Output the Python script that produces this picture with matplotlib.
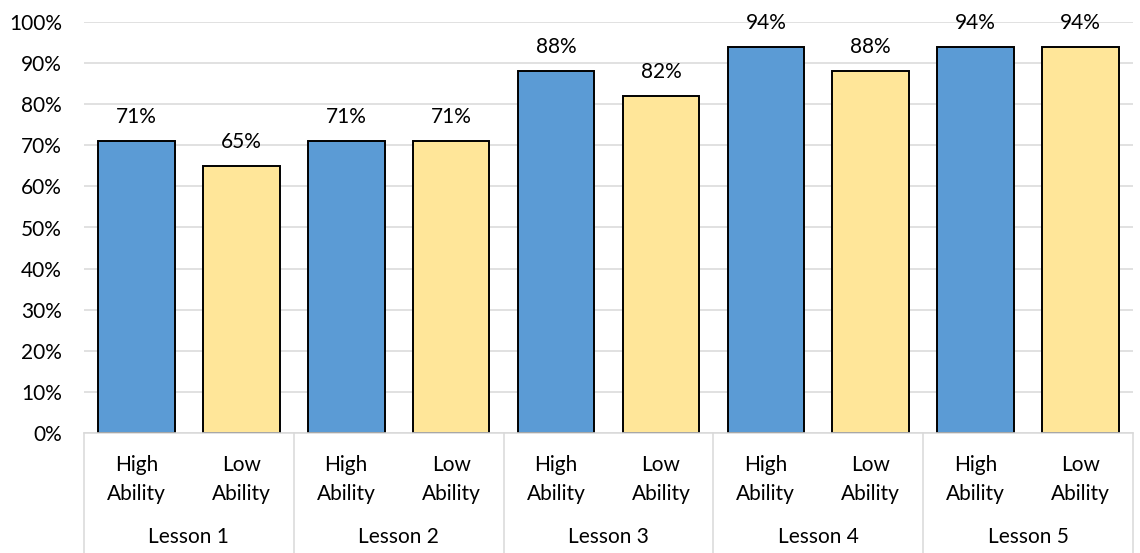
import matplotlib.pyplot as plt
import matplotlib.transforms as mtransforms
import matplotlib.ticker as ticker

# Data
lessons = ['Lesson 1', 'Lesson 2', 'Lesson 3', 'Lesson 4', 'Lesson 5']
groups = ['High\nAbility', 'Low\nAbility']
high_ability = [71, 71, 88, 94, 94]
low_ability = [65, 71, 82, 88, 94]

plt.rcParams['font.family'] = ['Lato', 'DejaVu Sans']
plt.rcParams['font.size'] = 15

fig = plt.figure(figsize=(11.4, 5.53), dpi=100)
ax = fig.add_axes([84 / 1140, 120 / 553, 1049 / 1140, 411 / 553])

# Interleave the two series: High, Low for each lesson
values = []
colors = []
labels = []
for h, l in zip(high_ability, low_ability):
    values += [h, l]
    colors += ['#5B9BD5', '#FFE699']
    labels += groups
x = list(range(len(values)))

bars = ax.bar(x, values, width=0.73, color=colors, edgecolor='black', linewidth=1.4, zorder=3)
for b, v in zip(bars, values):
    ax.annotate(f'{v}%', (b.get_x() + b.get_width() / 2, v), xytext=(0, 10),
                textcoords='offset points', ha='center', va='bottom')

ax.set_xlim(-0.5, len(values) - 0.5)
ax.set_ylim(0, 100)
ax.yaxis.set_major_locator(ticker.MultipleLocator(10))
ax.yaxis.set_major_formatter(ticker.FuncFormatter(lambda v, p: f'{v:.0f}%'))
ax.tick_params(axis='y', length=0, pad=16)
ax.set_xticks([])
ax.grid(True, axis='y', color='#D9D9D9', linewidth=1.1, zorder=0)
for s in ['left', 'right', 'top']:
    ax.spines[s].set_visible(False)
ax.spines['bottom'].set_color('#D9D9D9')
ax.spines['bottom'].set_linewidth(1.1)
ax.spines['bottom'].set_zorder(4)

# Multi-level category axis
trans = mtransforms.blended_transform_factory(ax.transData, ax.transAxes)
for i, lab in enumerate(labels):
    ax.text(i, -0.113, lab, transform=trans, ha='center', va='center',
            linespacing=1.6, clip_on=False)
for j, les in enumerate(lessons):
    ax.text(2 * j + 0.5, -0.253, les, transform=trans, ha='center', va='center', clip_on=False)
for k in range(len(lessons) + 1):
    ax.plot([2 * k - 0.5, 2 * k - 0.5], [0, -0.3], transform=trans, color='#D9D9D9',
            linewidth=1.1, clip_on=False)

plt.savefig('out.png', dpi=100)
plt.close()
